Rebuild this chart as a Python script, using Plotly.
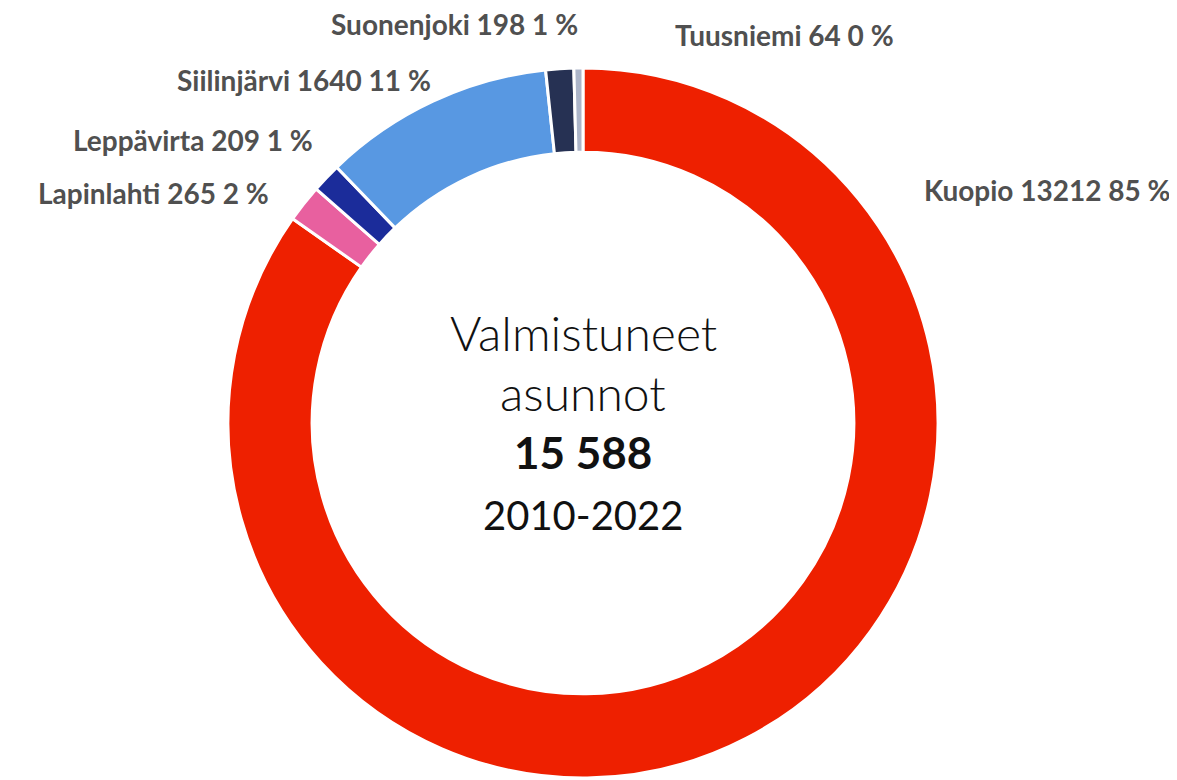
import plotly.graph_objects as go

municipalities = ["Kuopio", "Lapinlahti", "Leppävirta", "Siilinjärvi", "Suonenjoki", "Tuusniemi"]
dwellings = [13212, 265, 209, 1640, 198, 64]
colors = ["#EE2000", "#E8609F", "#1B2C9A", "#5898E2", "#263153", "#ACB5C9"]
period = "2010-2022"

W, H = 1177, 780
# label placement (right edge x, centre y, in page pixels)
label_pos = [(1170, 190), (268, 193), (312, 140), (430, 80), (577, 24), (893, 35)]
OFF = 8  # page body margin

total = sum(dwellings)
cx, cy, R = 583 - OFF, 423 - OFF, 355
fig = go.Figure(go.Pie(
    labels=municipalities, values=dwellings, sort=False, direction="clockwise", rotation=0,
    hole=0.763, marker=dict(colors=colors, line=dict(color="white", width=3)),
    textinfo="none", hoverinfo="label+value+percent", showlegend=False,
    domain=dict(x=[(cx - R) / W, (cx + R) / W], y=[(H - cy - R) / H, (H - cy + R) / H]),
))

annotations = []
for name, v, (px, py) in zip(municipalities, dwellings, label_pos):
    pct = round(v / total * 100)
    annotations.append(dict(x=(px - 5) / W, y=(H - (py - OFF)) / H, xref="paper", yref="paper",
                            xanchor="right", yanchor="middle",
                            text=f"<b>{name} {v} {pct} %</b>", showarrow=False,
                            font=dict(family="Lato", size=28, color="#505050")))

total_txt = f"{total:,}".replace(",", " ")
center = [("Valmistuneet", 333, 48, "Lato Light", False),
          ("asunnot", 392, 48, "Lato Light", False),
          (total_txt, 452, 44, "Lato", True),
          (period, 515, 40, "Lato", False)]
for txt, py, size, fam, bold in center:
    annotations.append(dict(x=cx / W, y=(H - (py - OFF)) / H, xref="paper", yref="paper",
                            xanchor="center", yanchor="middle",
                            text=f"<b>{txt}</b>" if bold else txt, showarrow=False,
                            font=dict(family=fam, size=size, color="#111111")))

fig.update_layout(width=W, height=H, margin=dict(l=0, r=0, t=0, b=0),
                  paper_bgcolor="white", plot_bgcolor="white", annotations=annotations)
fig.write_html("out.html")
